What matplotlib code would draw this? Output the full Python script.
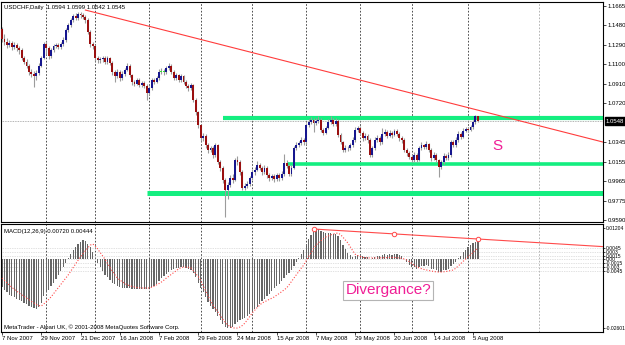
import numpy as np
import pandas as pd
import matplotlib
matplotlib.use('Agg')
import matplotlib.pyplot as plt
from matplotlib.transforms import blended_transform_factory

plt.rcParams['font.family'] = ['Liberation Sans', 'DejaVu Sans']

# ---------------- data ----------------
symbol_title = "USDCHF,Daily  1.0594 1.0599 1.0542 1.0545"
macd_title = "MACD(12,26,9) 0.00720 0.00444"
footer = "MetaTrader - Alpari UK, \u00a9 2001-2008 MetaQuotes Software Corp."

holidays = ['2007-12-25', '2008-01-01']
dates = pd.bdate_range('2007-11-07', '2008-08-07')
dates = dates[~dates.isin(pd.to_datetime(holidays))]

opens = [1.1442,1.1345,1.1316,1.1287,1.1306,1.1267,1.1287,1.1257,1.1238,1.1160,
 1.1122,1.1083,1.1025,1.1005,1.0986,1.1015,1.1083,1.1160,1.1296,1.1257,
 1.1180,1.1238,1.1277,1.1287,1.1267,1.1296,1.1335,1.1432,1.1481,1.1529,
 1.1568,1.1548,1.1587,1.1578,1.1558,1.1529,1.1413,1.1296,1.1277,1.1160,
 1.1141,1.1150,1.1160,1.1122,1.1160,1.1112,1.1025,1.0986,1.1025,1.0966,
 1.1005,1.1044,1.1083,1.0996,1.0928,1.0908,1.0947,1.0899,1.0918,1.0889,
 1.0821,1.0869,1.0947,1.0928,1.0966,1.1025,1.1030,1.1025,1.1063,1.1083,
 1.1025,1.0966,1.0996,1.0947,1.0986,1.0928,1.0889,1.0869,1.0899,1.0753,
 1.0637,1.0510,1.0384,1.0404,1.0316,1.0268,1.0287,1.0220,1.0316,1.0152,
 1.0094,0.9977,0.9880,0.9929,0.9997,0.9977,1.0171,1.0152,1.0055,0.9899,
 0.9919,0.9938,0.9997,1.0055,1.0074,1.0123,1.0094,1.0055,1.0094,1.0026,
 0.9997,1.0016,0.9987,1.0026,0.9997,1.0035,1.0142,1.0113,1.0035,1.0094,
 1.0287,1.0316,1.0336,1.0365,1.0346,1.0510,1.0540,1.0559,1.0530,1.0549,
 1.0559,1.0462,1.0433,1.0481,1.0540,1.0559,1.0520,1.0549,1.0413,1.0346,
 1.0268,1.0287,1.0283,1.0316,1.0365,1.0462,1.0481,1.0433,1.0384,1.0404,
 1.0365,1.0220,1.0287,1.0365,1.0384,1.0346,1.0423,1.0443,1.0404,1.0433,
 1.0413,1.0452,1.0423,1.0384,1.0365,1.0268,1.0239,1.0200,1.0171,1.0220,
 1.0171,1.0287,1.0316,1.0297,1.0326,1.0268,1.0190,1.0220,1.0171,1.0103,
 1.0152,1.0210,1.0190,1.0220,1.0346,1.0316,1.0365,1.0423,1.0394,1.0452,
 1.0472,1.0462,1.0491,1.0540,1.0594]

closes = [1.1345,1.1316,1.1287,1.1306,1.1267,1.1287,1.1257,1.1238,1.1160,1.1122,
 1.1083,1.1025,1.1005,1.0986,1.1015,1.1083,1.1160,1.1296,1.1257,1.1180,
 1.1238,1.1277,1.1287,1.1267,1.1296,1.1335,1.1432,1.1481,1.1529,1.1568,
 1.1548,1.1587,1.1578,1.1558,1.1529,1.1413,1.1296,1.1277,1.1160,1.1141,
 1.1150,1.1160,1.1122,1.1160,1.1112,1.1025,1.0986,1.1025,1.0966,1.1005,
 1.1044,1.1083,1.0996,1.0928,1.0908,1.0947,1.0899,1.0918,1.0889,1.0821,
 1.0869,1.0947,1.0928,1.0966,1.1025,1.1030,1.1025,1.1063,1.1083,1.1025,
 1.0966,1.0996,1.0947,1.0986,1.0928,1.0889,1.0869,1.0899,1.0753,1.0637,
 1.0510,1.0384,1.0404,1.0316,1.0268,1.0287,1.0220,1.0316,1.0152,1.0094,
 0.9977,0.9880,0.9929,0.9997,0.9977,1.0171,1.0152,1.0055,0.9899,0.9919,
 0.9938,0.9997,1.0055,1.0074,1.0123,1.0094,1.0055,1.0094,1.0026,0.9997,
 1.0016,0.9987,1.0026,0.9997,1.0035,1.0142,1.0113,1.0035,1.0094,1.0287,
 1.0316,1.0336,1.0365,1.0346,1.0510,1.0540,1.0559,1.0530,1.0549,1.0559,
 1.0462,1.0433,1.0481,1.0540,1.0559,1.0520,1.0549,1.0413,1.0346,1.0268,
 1.0287,1.0283,1.0316,1.0365,1.0462,1.0481,1.0433,1.0384,1.0404,1.0365,
 1.0220,1.0287,1.0365,1.0384,1.0346,1.0423,1.0443,1.0404,1.0433,1.0413,
 1.0452,1.0423,1.0384,1.0365,1.0268,1.0239,1.0200,1.0171,1.0220,1.0171,
 1.0287,1.0316,1.0297,1.0326,1.0268,1.0190,1.0220,1.0171,1.0103,1.0152,
 1.0210,1.0190,1.0220,1.0346,1.0316,1.0365,1.0423,1.0394,1.0452,1.0472,
 1.0462,1.0491,1.0540,1.0594,1.0545]

highs = [1.1465,1.1390,1.1350,1.1340,1.1330,1.1315,1.1310,1.1280,1.1255,1.1185,
 1.1150,1.1100,1.1050,1.1030,1.1040,1.1110,1.1185,1.1320,1.1330,1.1280,
 1.1260,1.1300,1.1310,1.1305,1.1320,1.1360,1.1450,1.1500,1.1550,1.1590,
 1.1595,1.1610,1.1605,1.1600,1.1575,1.1545,1.1430,1.1320,1.1290,1.1185,
 1.1175,1.1185,1.1180,1.1185,1.1175,1.1130,1.1045,1.1050,1.1040,1.1030,
 1.1065,1.1110,1.1100,1.1010,1.0950,1.0970,1.0965,1.0940,1.0935,1.0905,
 1.0890,1.0965,1.0970,1.0990,1.1050,1.1060,1.1055,1.1085,1.1110,1.1100,
 1.1040,1.1020,1.1010,1.1005,1.1000,1.0945,1.0910,1.0920,1.0910,1.0770,
 1.0650,1.0520,1.0430,1.0420,1.0335,1.0310,1.0305,1.0340,1.0330,1.0170,
 1.0110,1.0000,0.9960,1.0025,1.0040,1.0195,1.0210,1.0170,1.0070,0.9950,
 0.9965,1.0020,1.0080,1.0100,1.0160,1.0140,1.0115,1.0120,1.0110,1.0045,
 1.0040,1.0035,1.0050,1.0045,1.0060,1.0230,1.0170,1.0130,1.0120,1.0310,
 1.0345,1.0360,1.0390,1.0380,1.0530,1.0565,1.0585,1.0575,1.0575,1.0600,
 1.0575,1.0485,1.0500,1.0565,1.0600,1.0580,1.0575,1.0565,1.0430,1.0360,
 1.0315,1.0310,1.0340,1.0390,1.0490,1.0505,1.0500,1.0450,1.0430,1.0420,
 1.0380,1.0310,1.0390,1.0410,1.0400,1.0480,1.0470,1.0460,1.0460,1.0450,
 1.0475,1.0470,1.0440,1.0400,1.0380,1.0290,1.0260,1.0225,1.0245,1.0235,
 1.0310,1.0345,1.0330,1.0355,1.0340,1.0285,1.0245,1.0235,1.0185,1.0175,
 1.0235,1.0230,1.0245,1.0370,1.0365,1.0390,1.0450,1.0440,1.0480,1.0495,
 1.0490,1.0515,1.0560,1.0610,1.0599]

lows = [1.1320,1.1290,1.1255,1.1270,1.1240,1.1250,1.1230,1.1200,1.1140,1.1100,
 1.1060,1.1000,1.0975,1.0879,1.0950,1.0995,1.1070,1.1150,1.1200,1.1150,
 1.1165,1.1220,1.1255,1.1245,1.1250,1.1280,1.1320,1.1415,1.1460,1.1510,
 1.1525,1.1530,1.1550,1.1535,1.1500,1.1395,1.1270,1.1250,1.1130,1.1110,
 1.1115,1.1125,1.1100,1.1105,1.1090,1.1000,1.0930,1.0965,1.0940,1.0950,
 1.0990,1.1030,1.0975,1.0900,1.0885,1.0895,1.0880,1.0880,1.0865,1.0753,
 1.0800,1.0855,1.0905,1.0915,1.0950,1.1005,1.1000,1.1010,1.1045,1.1005,
 1.0945,1.0950,1.0925,1.0930,1.0905,1.0865,1.0845,1.0850,1.0730,1.0610,
 1.0480,1.0355,1.0360,1.0290,1.0240,1.0250,1.0190,1.0200,1.0130,1.0060,
 0.9950,0.9618,0.9790,0.9905,0.9950,0.9965,1.0120,1.0030,0.9880,0.9880,
 0.9895,0.9920,0.9980,1.0030,1.0060,1.0070,1.0030,1.0040,1.0000,0.9965,
 0.9975,0.9960,0.9965,0.9970,0.9980,1.0020,1.0090,1.0015,1.0020,1.0080,
 1.0270,1.0300,1.0320,1.0320,1.0330,1.0490,1.0520,1.0440,1.0510,1.0530,
 1.0440,1.0410,1.0420,1.0470,1.0525,1.0500,1.0505,1.0395,1.0325,1.0245,
 1.0250,1.0260,1.0265,1.0300,1.0350,1.0440,1.0410,1.0360,1.0370,1.0340,
 1.0200,1.0205,1.0270,1.0350,1.0320,1.0330,1.0400,1.0380,1.0390,1.0385,
 1.0400,1.0400,1.0360,1.0340,1.0250,1.0215,1.0180,1.0150,1.0155,1.0150,
 1.0160,1.0270,1.0275,1.0280,1.0245,1.0165,1.0175,1.0150,1.0006,1.0085,
 1.0135,1.0170,1.0170,1.0205,1.0295,1.0300,1.0350,1.0375,1.0380,1.0440,
 1.0440,1.0450,1.0475,1.0525,1.0542]

macd_main = [-0.0105,-0.0115,-0.0124,-0.0134,-0.0140,-0.0145,-0.0150,-0.0155,-0.0160,-0.0166,
 -0.0171,-0.0176,-0.0182,-0.0186,-0.0188,-0.0180,-0.0165,-0.0140,-0.0125,-0.0115,
 -0.0100,-0.0088,-0.0075,-0.0060,-0.0045,-0.0030,-0.0012,0.0005,0.0020,0.0035,
 0.0048,0.0060,0.0068,0.0074,0.0070,0.0060,0.0048,0.0030,0.0005,-0.0015,
 -0.0030,-0.0045,-0.0058,-0.0068,-0.0078,-0.0088,-0.0095,-0.0100,-0.0104,-0.0107,
 -0.0108,-0.0108,-0.0110,-0.0112,-0.0113,-0.0112,-0.0113,-0.0113,-0.0112,-0.0113,
 -0.0110,-0.0105,-0.0100,-0.0092,-0.0082,-0.0072,-0.0063,-0.0055,-0.0048,-0.0042,
 -0.0038,-0.0034,-0.0031,-0.0029,-0.0030,-0.0033,-0.0037,-0.0042,-0.0052,-0.0068,
 -0.0088,-0.0108,-0.0125,-0.0145,-0.0162,-0.0176,-0.0190,-0.0200,-0.0215,-0.0230,
 -0.0245,-0.0258,-0.0262,-0.0260,-0.0256,-0.0248,-0.0240,-0.0232,-0.0228,-0.0222,
 -0.0215,-0.0208,-0.0200,-0.0190,-0.0180,-0.0170,-0.0160,-0.0150,-0.0140,-0.0130,
 -0.0120,-0.0110,-0.0100,-0.0092,-0.0082,-0.0070,-0.0060,-0.0052,-0.0042,-0.0025,
 -0.0010,0.0005,0.0020,0.0035,0.0058,0.0080,0.0095,0.0104,0.0112,0.0115,
 0.0110,0.0104,0.0100,0.0100,0.0101,0.0099,0.0098,0.0090,0.0074,0.0055,
 0.0040,0.0026,0.0016,0.0010,0.0012,0.0016,0.0015,0.0012,0.0010,0.0008,
 0.0002,0.0004,0.0010,0.0014,0.0012,0.0016,0.0020,0.0018,0.0020,0.0019,
 0.0022,0.0020,0.0016,0.0012,0.0000,-0.0010,-0.0020,-0.0028,-0.0030,-0.0035,
 -0.0030,-0.0025,-0.0024,-0.0022,-0.0026,-0.0035,-0.0038,-0.0042,-0.0048,-0.0046,
 -0.0042,-0.0040,-0.0038,-0.0025,-0.0018,-0.0008,0.0005,0.0015,0.0028,0.0038,
 0.0046,0.0054,0.0062,0.0068,0.0072]

macd_signal = [-0.0071,-0.0080,-0.0089,-0.0098,-0.0106,-0.0114,-0.0121,-0.0128,-0.0135,-0.0141,
 -0.0147,-0.0153,-0.0160,-0.0166,-0.0172,-0.0176,-0.0178,-0.0170,-0.0162,-0.0153,
 -0.0143,-0.0131,-0.0119,-0.0107,-0.0095,-0.0083,-0.0071,-0.0059,-0.0045,-0.0031,
 -0.0017,-0.0003,0.0010,0.0022,0.0034,0.0045,0.0055,0.0059,0.0052,0.0040,
 0.0027,0.0014,0.0001,-0.0015,-0.0030,-0.0045,-0.0058,-0.0071,-0.0078,-0.0085,
 -0.0091,-0.0097,-0.0100,-0.0103,-0.0105,-0.0107,-0.0108,-0.0109,-0.0109,-0.0109,
 -0.0109,-0.0106,-0.0102,-0.0097,-0.0092,-0.0086,-0.0079,-0.0071,-0.0064,-0.0057,
 -0.0050,-0.0043,-0.0036,-0.0031,-0.0029,-0.0029,-0.0030,-0.0032,-0.0042,-0.0055,
 -0.0065,-0.0080,-0.0100,-0.0120,-0.0140,-0.0158,-0.0174,-0.0188,-0.0200,-0.0215,
 -0.0228,-0.0240,-0.0250,-0.0257,-0.0261,-0.0262,-0.0262,-0.0258,-0.0252,-0.0243,
 -0.0231,-0.0218,-0.0204,-0.0194,-0.0184,-0.0175,-0.0166,-0.0162,-0.0157,-0.0152,
 -0.0148,-0.0143,-0.0136,-0.0130,-0.0123,-0.0116,-0.0109,-0.0097,-0.0084,-0.0071,
 -0.0058,-0.0046,-0.0033,-0.0021,-0.0005,0.0011,0.0026,0.0041,0.0055,0.0064,
 0.0072,0.0079,0.0086,0.0090,0.0094,0.0097,0.0100,0.0101,0.0095,0.0085,
 0.0074,0.0063,0.0048,0.0033,0.0020,0.0015,0.0012,0.0008,0.0007,0.0006,
 0.0006,0.0006,0.0006,0.0006,0.0006,0.0007,0.0007,0.0007,0.0008,0.0008,
 0.0008,0.0007,0.0006,0.0004,0.0002,-0.0002,-0.0008,-0.0015,-0.0021,-0.0027,
 -0.0032,-0.0035,-0.0038,-0.0040,-0.0042,-0.0044,-0.0046,-0.0047,-0.0048,-0.0048,
 -0.0047,-0.0046,-0.0044,-0.0042,-0.0040,-0.0033,-0.0025,-0.0016,-0.0007,0.0002,
 0.0010,0.0018,0.0027,0.0036,0.0044]

date_labels = ['7 Nov 2007', '29 Nov 2007', '21 Dec 2007', '16 Jan 2008', '7 Feb 2008',
               '29 Feb 2008', '24 Mar 2008', '15 Apr 2008', '7 May 2008', '29 May 2008',
               '20 Jun 2008', '14 Jul 2008', '5 Aug 2008']
price_ticks = [1.1665, 1.1480, 1.1290, 1.1100, 1.0910, 1.0720, 1.0345, 1.0155, 0.9965, 0.9775, 0.9590]
price_box_value = 1.0548
bid_price = 1.0545
macd_ticks = [0.01204, 0.0045, 0.003, 0.0015, 0.0, -0.0015, -0.003, -0.0045, -0.02601]
macd_tick_labels = ['0.01204', '0.0045', '0.003', '0.0015', '0.00', '-0.0015', '-0.003', '-0.0045', '-0.02601']
macd_levels = [0.0045, 0.003, 0.0015, 0.0, -0.0015, -0.003, -0.0045]

band_levels = [1.0578, 1.0137, 0.9856]
band_start_dates = ['2008-03-14', '2008-04-21', '2008-01-31']

trend_dates = ['2007-12-26', '2008-08-07']
trend_prices = [1.1626, 1.0655]

macd_tl_dates = ['2008-05-06', '2008-06-20', '2008-08-07']
macd_tl_values = [0.01165, 0.00975, 0.00783]

# ---------------- figure ----------------
W, H = 625, 345
fig = plt.figure(figsize=(W / 100, H / 100), dpi=100)
fig.patch.set_facecolor('white')

def frac(l, t, r, b):
    return [l / W, 1 - b / H, (r - l) / W, (b - t) / H]

ax = fig.add_axes(frac(1, 2, 603, 222))
ax2 = fig.add_axes(frac(1, 224, 603, 332))

n = len(closes)
dates = dates[:n]
x = np.arange(n)
xmin, xmax = -0.41, 245.0
for a in (ax, ax2):
    a.set_xlim(xmin, xmax)
    a.set_facecolor('white')
    for s in a.spines.values():
        s.set_color('black')
        s.set_linewidth(0.8)
ax.set_ylim(0.9570, 1.1704)
ax2.set_ylim(-0.0277, 0.01356)

pos = lambda d: int(dates.get_indexer(pd.to_datetime([d]))[0])

# month-start grid lines
periods = dates.to_period('M')
grid_x = [int(np.where(periods == p)[0][0]) for p in periods.unique()[1:]]
future_x = (n - 1) + (pd.Timestamp('2008-09-01') - dates[-1]).days
for a in (ax, ax2):
    for gx in grid_x:
        a.axvline(gx, color='#303030', lw=0.6, ls=(0, (2, 2)), zorder=1)
    a.axvline(future_x, color='#A8A8A8', lw=0.6, ls=(0, (2, 2)), zorder=1)

# green support/resistance bands
band_lw = [3.0, 2.6, 3.6]
for lvl, sd, lw in zip(band_levels, band_start_dates, band_lw):
    ax.hlines(lvl, pos(sd), xmax, color='#14EE80', lw=lw, zorder=1.5)

# bid line
ax.axhline(bid_price, color='#9A9A9A', lw=0.6, ls=(0, (1, 1)), zorder=1.2)

# candles
o = np.array(opens); c = np.array(closes); h = np.array(highs); l = np.array(lows)
ax.vlines(x, l, h, color='#9C9C9C', lw=0.8, zorder=2)
body_h = np.abs(c - o)
cols = np.where(c > o, '#16168E', '#9A1010').astype(object)
doji = body_h < 0.0006
cols[doji] = '#33DD33'
ax.bar(x, np.maximum(body_h, 0.0007), bottom=np.minimum(o, c), width=0.78,
       color=list(cols), linewidth=0, zorder=3)

# price trend line (ray to the right edge)
tx = [pos(d) for d in trend_dates]
slope = (trend_prices[1] - trend_prices[0]) / (tx[1] - tx[0])
ax.plot([tx[0], xmax], [trend_prices[0], trend_prices[0] + slope * (xmax - tx[0])],
        color='#FF3C3C', lw=0.8, zorder=4)

# right price axis
ax.yaxis.tick_right()
ax.set_yticks(price_ticks)
ax.set_yticklabels([f'{v:.4f}' for v in price_ticks])
ax.tick_params(axis='y', labelsize=4.3, length=2, width=0.5, pad=1.2, direction='out')
ax.tick_params(axis='x', bottom=False, labelbottom=False)
tr = blended_transform_factory(ax.transAxes, ax.transData)
ax.text(1.0 + 3 / 602, price_box_value, f'{price_box_value:.4f}', transform=tr,
        fontsize=4.3, color='white', va='center', ha='left',
        bbox=dict(boxstyle='square,pad=0.2', fc='black', ec='black'), clip_on=False)

ax.text(pos('2008-08-07') + 7.8, 1.0307, 'S', color='#F01E96', fontsize=11,
        ha='center', va='center')

# MACD panel
for lv in macd_levels:
    ax2.axhline(lv, color='#C4C4C4', lw=0.5, ls=(0, (1, 1.5)), zorder=1.2)
ax2.bar(x, macd_main, width=0.5, color='#666666', linewidth=0, zorder=2)
ax2.plot(x, macd_signal, color='#FF4848', lw=0.8, ls=(0, (1, 1.6)), zorder=3)

mx = [pos(d) for d in macd_tl_dates]
mslope = (macd_tl_values[-1] - macd_tl_values[0]) / (mx[-1] - mx[0])
ax2.plot([mx[0], xmax], [macd_tl_values[0], macd_tl_values[0] + mslope * (xmax - mx[0])],
         color='#FF4A4A', lw=0.8, zorder=4)
ax2.plot(mx, macd_tl_values, ls='none', marker='o', ms=3.2, mfc='white',
         mec='#FF4A4A', mew=0.7, zorder=5)

ax2.yaxis.tick_right()
ax2.set_yticks(macd_ticks)
ax2.set_yticklabels(macd_tick_labels)
ax2.tick_params(axis='y', labelsize=3.6, length=1.5, width=0.5, pad=0.6)

label_pos = [int(dates.get_indexer(pd.to_datetime([d]))[0]) for d in date_labels]
ax2.set_xticks(label_pos)
ax2.set_xticklabels(date_labels, ha='left')
ax2.tick_params(axis='x', labelsize=4.3, length=2, width=0.5, pad=1.0, direction='out')

ax2.text(pos('2008-05-23'), -0.01177, 'Divergance?', color='#F01E96', fontsize=11,
         ha='left', va='center',
         bbox=dict(boxstyle='square,pad=0.15', fc='white', ec='#B4B4B4', lw=0.8), zorder=6)

# header / footer texts
fig.text(4 / W, 1 - 7 / H, symbol_title, fontsize=4.3, ha='left', va='center')
fig.text(4 / W, 1 - 232 / H, macd_title, fontsize=4.3, ha='left', va='center')
fig.text(4 / W, 1 - 327 / H, footer, fontsize=4.3, ha='left', va='center')

fig.savefig('out.png', dpi=100, facecolor='white')
